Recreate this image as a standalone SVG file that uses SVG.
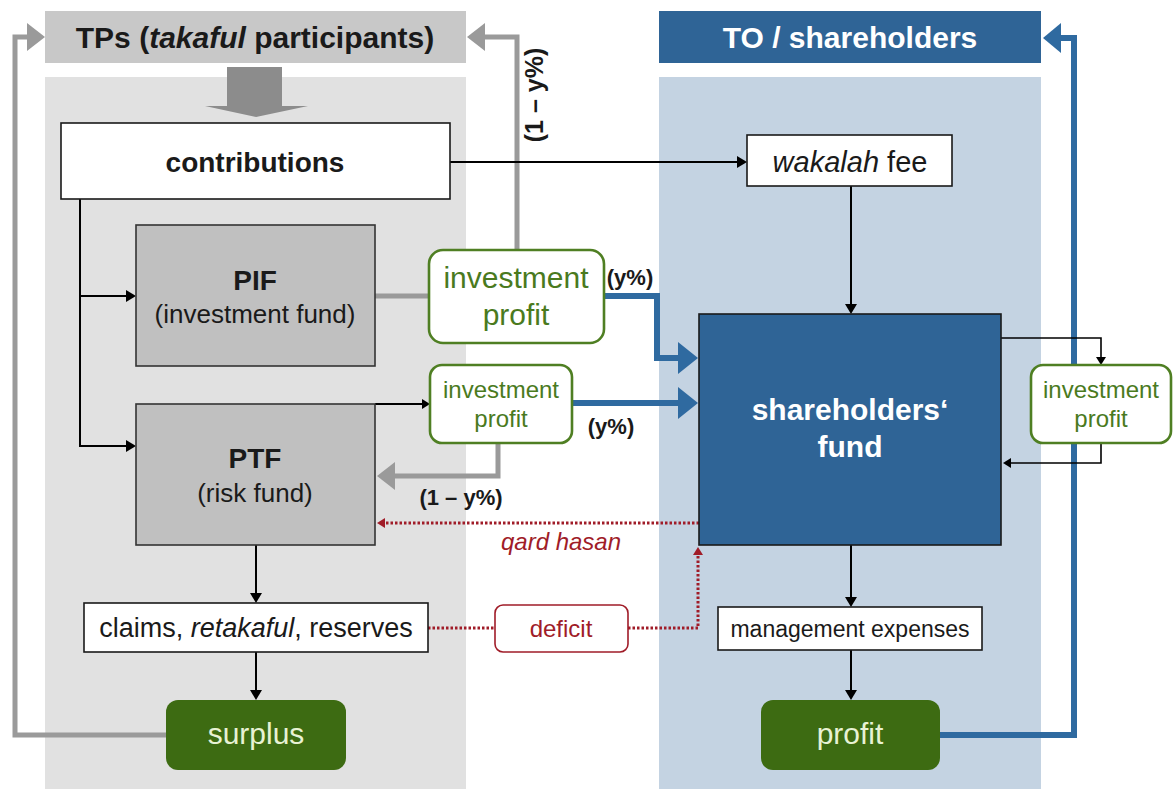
<svg xmlns="http://www.w3.org/2000/svg" width="1176" height="789" viewBox="0 0 1176 789">
<defs>
<style>
text{font-family:"Liberation Sans",Arial,sans-serif;text-anchor:middle}
.b{font-weight:bold}
.i{font-style:italic}
.box{fill:#fff;stroke:#1a1a1a;stroke-width:1.6}
.fund{fill:#c0c0c0;stroke:#333;stroke-width:1.6}
.inv{fill:#fff;stroke:#4f7f23;stroke-width:2.6}
.invt{fill:#4a7a1e}
.green{fill:#3d6b12}
.greent{fill:#e8f2d4}
.blk{fill:none;stroke:#000;stroke-width:2}
.gry{fill:none;stroke:#9a9a9a;stroke-width:5}
.blu{fill:none;stroke:#2f6aa0;stroke-width:6}
.red{fill:none;stroke:#a01c28;stroke-width:3;stroke-dasharray:2.5 2}
</style>
<marker id="ab" viewBox="0 0 10 12" refX="0" refY="6" markerWidth="10" markerHeight="12" markerUnits="userSpaceOnUse" orient="auto"><path d="M0,0L10,6L0,12z" fill="#000"/></marker>
<marker id="abs" viewBox="0 0 8 10" refX="0" refY="5" markerWidth="8" markerHeight="10" markerUnits="userSpaceOnUse" orient="auto"><path d="M0,0L8,5L0,10z" fill="#000"/></marker>
<marker id="ag" viewBox="0 0 18 28" refX="0" refY="14" markerWidth="18" markerHeight="28" markerUnits="userSpaceOnUse" orient="auto"><path d="M0,0L18,14L0,28z" fill="#9a9a9a"/></marker>
<marker id="bl" viewBox="0 0 20 32" refX="0" refY="16" markerWidth="20" markerHeight="32" markerUnits="userSpaceOnUse" orient="auto"><path d="M0,0L20,16L0,32z" fill="#2f6aa0"/></marker>
<marker id="bls" viewBox="0 0 18 30" refX="0" refY="15" markerWidth="18" markerHeight="30" markerUnits="userSpaceOnUse" orient="auto"><path d="M0,0L18,15L0,30z" fill="#2f6aa0"/></marker>
<marker id="ar" viewBox="0 0 8 10" refX="0" refY="5" markerWidth="8" markerHeight="10" markerUnits="userSpaceOnUse" orient="auto"><path d="M0,0L8,5L0,10z" fill="#a01c28"/></marker>
</defs>
<rect width="1176" height="789" fill="#fff"/>

<g id="panel-tps">
<rect x="45" y="77" width="421" height="712" fill="#e1e1e1"/>
<rect x="45" y="11" width="421" height="52" fill="#c8c8c8"/>
<text x="255" y="48" class="b" font-size="30" fill="#1a1a1a">TPs (<tspan class="i">takaful</tspan> participants)</text>
<polygon points="227,67 282,67 282,106 308,106 256,117 205,106 227,106" fill="#8c8c8c"/>
</g>
<g id="panel-to">
<rect x="659" y="77" width="382" height="712" fill="#c4d3e2"/>
<rect x="659" y="11" width="382" height="52" fill="#2f6496"/>
<text x="850" y="48" class="b" font-size="30" fill="#fff">TO / shareholders</text>
</g>

<g id="connectors">
<path class="gry" d="M166,735 H15 V37 H27" marker-end="url(#ag)"/>
<path class="gry" d="M517,250 V37 H485" marker-end="url(#ag)"/>
<path class="gry" d="M375,296 H429"/>
<path class="gry" d="M498,443 V476 H395" marker-end="url(#ag)"/>
<path class="blu" d="M940,735 H1074 V38 H1061" marker-end="url(#bls)"/>
<path class="blu" d="M604,296 H657 V358 H678" marker-end="url(#bl)"/>
<path class="blu" d="M572,403 H678" marker-end="url(#bl)"/>
<path class="blk" d="M450,162 H737" marker-end="url(#ab)"/>
<path class="blk" d="M851,186 V304" marker-end="url(#ab)"/>
<path class="blk" d="M80,199 V446 H126" marker-end="url(#ab)"/>
<path class="blk" d="M80,296 H126" marker-end="url(#ab)"/>
<path class="blk" d="M375,404 H422" marker-end="url(#abs)"/>
<path class="blk" d="M256,545 V593" marker-end="url(#ab)"/>
<path class="blk" d="M256,652 V690" marker-end="url(#ab)"/>
<path class="blk" d="M851,545 V597" marker-end="url(#ab)"/>
<path class="blk" d="M851,650 V690" marker-end="url(#ab)"/>
<path class="blk" style="stroke-width:1.6" d="M1001,338 H1101 V357" marker-end="url(#abs)"/>
<path class="blk" style="stroke-width:1.6" d="M1101,443 V463 H1011" marker-end="url(#abs)"/>
<path class="red" d="M699,523 H385" marker-end="url(#ar)"/>
<path class="red" d="M428,628 H495"/>
<path class="red" d="M628,628 H698 V555" marker-end="url(#ar)"/>
<text x="0" y="0" class="b" font-size="25" fill="#1a1a1a" transform="translate(543,95) rotate(-90)">(1 – y%)</text>
<text x="630" y="285" class="b" font-size="22" fill="#1a1a1a">(y%)</text>
<text x="611" y="434" class="b" font-size="22" fill="#1a1a1a">(y%)</text>
<text x="461" y="505" class="b" font-size="22" fill="#1a1a1a">(1 – y%)</text>
<text x="561" y="550" class="i" font-size="24" fill="#a01c28">qard hasan</text>
</g>

<g id="contributions">
<rect class="box" x="61" y="123" width="389" height="76"/>
<text x="255" y="172" class="b" font-size="28" fill="#1a1a1a">contributions</text>
</g>
<g id="wakalah-fee">
<rect class="box" x="747" y="135" width="205" height="51"/>
<text x="850" y="172" font-size="29" fill="#1a1a1a"><tspan class="i">wakalah</tspan> fee</text>
</g>
<g id="pif">
<rect class="fund" x="136" y="225" width="239" height="141"/>
<text x="255" y="290" class="b" font-size="28" fill="#1a1a1a">PIF</text>
<text x="255" y="323" font-size="26" fill="#1a1a1a">(investment fund)</text>
</g>
<g id="ptf">
<rect class="fund" x="136" y="404" width="239" height="141"/>
<text x="255" y="468" class="b" font-size="28" fill="#1a1a1a">PTF</text>
<text x="255" y="502" font-size="26" fill="#1a1a1a">(risk fund)</text>
</g>
<g id="investment-profit-pif">
<rect class="inv" x="429" y="250" width="175" height="93" rx="14"/>
<text x="516" y="288" font-size="30" class="invt">investment</text>
<text x="516" y="325" font-size="30" class="invt">profit</text>
</g>
<g id="investment-profit-ptf">
<rect class="inv" x="430" y="365" width="142" height="78" rx="12"/>
<text x="501" y="398" font-size="24" class="invt">investment</text>
<text x="501" y="427" font-size="24" class="invt">profit</text>
</g>
<g id="shareholders-fund">
<rect x="699" y="314" width="302" height="231" fill="#2f6496" stroke="#1a1a1a" stroke-width="1.6"/>
<text x="850" y="420" class="b" font-size="30" fill="#fff">shareholders‘</text>
<text x="850" y="457" class="b" font-size="30" fill="#fff">fund</text>
</g>
<g id="investment-profit-sf">
<rect class="inv" x="1031" y="365" width="140" height="78" rx="12"/>
<text x="1101" y="398" font-size="24" class="invt">investment</text>
<text x="1101" y="427" font-size="24" class="invt">profit</text>
</g>
<g id="claims">
<rect class="box" x="84" y="603" width="344" height="49"/>
<text x="256" y="637" font-size="27" fill="#1a1a1a">claims, <tspan class="i">retakaful</tspan>, reserves</text>
</g>
<g id="deficit">
<rect x="495" y="605" width="133" height="47" rx="8" fill="#fff" stroke="#a01c28" stroke-width="1.6"/>
<text x="561" y="637" font-size="24" fill="#a01c28">deficit</text>
</g>
<g id="management-expenses">
<rect class="box" x="718" y="607" width="264" height="43"/>
<text x="850" y="637" font-size="23" fill="#1a1a1a">management expenses</text>
</g>
<g id="surplus">
<rect class="green" x="166" y="700" width="180" height="70" rx="12"/>
<text x="256" y="744" font-size="30" class="greent">surplus</text>
</g>
<g id="profit">
<rect class="green" x="761" y="700" width="179" height="70" rx="12"/>
<text x="850" y="744" font-size="30" class="greent">profit</text>
</g>
</svg>
